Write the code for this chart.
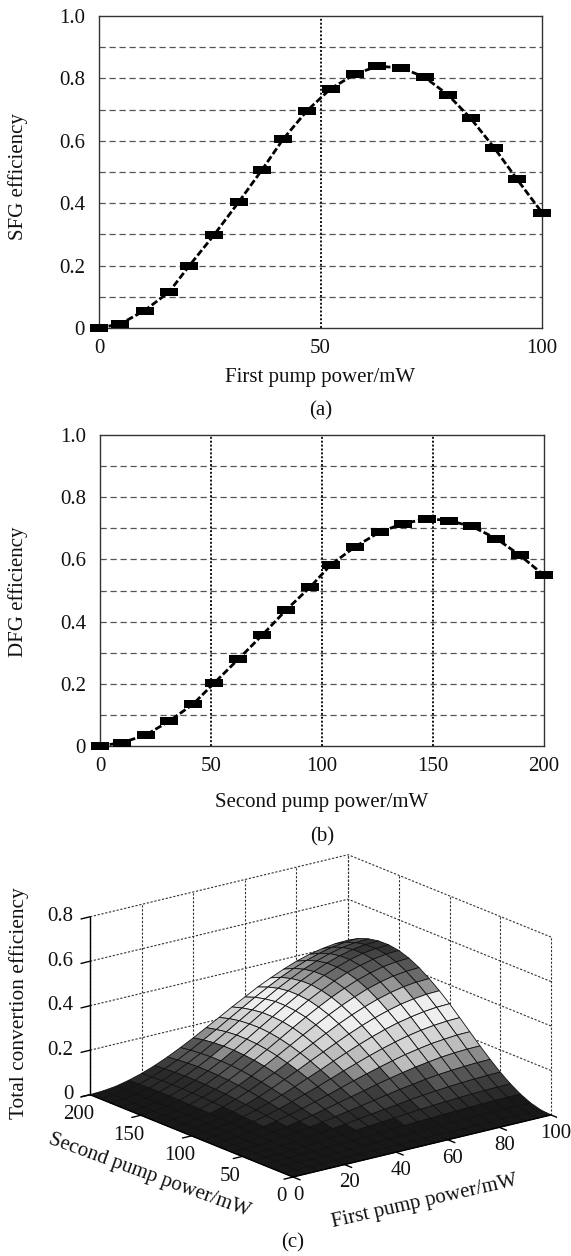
import numpy as np, pandas as pd, seaborn as sns, matplotlib
matplotlib.use('Agg')
import matplotlib.pyplot as plt
from matplotlib.path import Path
from matplotlib.colors import BoundaryNorm, ListedColormap
from mpl_toolkits.mplot3d import proj3d

sfg_power = [0,4.8,10.3,15.8,20.4,25.9,31.5,36.8,41.6,47,52.3,57.7,62.8,68.2,73.5,78.8,83.9,89.2,94.4,100]
sfg_eff = [0,.013,.056,.115,.2,.297,.403,.507,.606,.697,.767,.813,.839,.834,.804,.747,.672,.578,.476,.37]
dfg_power = [0,10,20.5,31,42,51.5,62.3,73,83.8,94.8,104,115,126,136.5,147.5,157,167.5,178.5,189,200]
dfg_eff = [0,.011,.035,.079,.135,.203,.279,.356,.437,.512,.583,.641,.688,.715,.731,.725,.706,.667,.614,.549]
first_pump = list(range(0,101,5))
second_pump = list(range(0,201,10))
# total efficiency: one row per second-pump power, one column per first-pump power
total_eff = [
[0,0,0,0,0,0,0,0,0,0,0,0,0,0,0,0,0,0,0,0,0],
[0,0,0,0,0,.001,.001,.001,.001,.002,.002,.002,.003,.003,.003,.004,.004,.004,.004,.004,.004],
[0,0,0,.001,.002,.002,.004,.005,.006,.007,.009,.010,.011,.012,.013,.015,.015,.016,.017,.017,.017],
[0,0,.001,.002,.004,.006,.008,.010,.013,.016,.019,.022,.025,.027,.030,.032,.034,.036,.037,.038,.038],
[0,0,.002,.004,.006,.010,.014,.018,.023,.028,.033,.038,.043,.048,.052,.056,.059,.062,.064,.065,.066],
[0,.001,.002,.005,.010,.015,.021,.027,.034,.042,.050,.058,.065,.073,.079,.085,.090,.094,.097,.099,.100],
[0,.001,.003,.008,.013,.020,.029,.038,.048,.059,.069,.080,.091,.101,.110,.119,.126,.131,.135,.138,.139],
[0,.001,.004,.010,.017,.027,.037,.050,.063,.077,.091,.105,.119,.132,.144,.155,.164,.172,.177,.180,.181],
[0,.001,.006,.012,.022,.033,.047,.062,.078,.095,.113,.131,.148,.164,.179,.193,.204,.214,.220,.225,.226],
[0,.002,.007,.015,.026,.040,.056,.074,.094,.114,.135,.157,.177,.197,.215,.231,.245,.256,.264,.269,.271],
[0,.002,.008,.017,.030,.046,.065,.086,.109,.133,.157,.182,.206,.229,.250,.269,.285,.297,.307,.313,.315],
[0,.002,.009,.019,.034,.052,.073,.097,.123,.150,.178,.205,.232,.258,.282,.303,.321,.336,.346,.353,.355],
[0,.002,.010,.021,.037,.057,.081,.107,.135,.165,.196,.226,.256,.285,.311,.334,.354,.370,.382,.389,.391],
[0,.003,.010,.023,.040,.062,.087,.115,.146,.178,.211,.244,.276,.307,.335,.360,.382,.399,.412,.419,.422],
[0,.003,.011,.024,.043,.065,.092,.122,.154,.188,.223,.258,.292,.324,.354,.380,.403,.421,.435,.443,.446],
[0,.003,.011,.025,.044,.068,.095,.126,.159,.195,.231,.267,.302,.336,.366,.394,.418,.436,.450,.459,.462],
[0,.003,.011,.026,.045,.069,.097,.128,.162,.198,.235,.271,.307,.341,.373,.401,.424,.444,.458,.466,.469],
[0,.003,.011,.026,.045,.069,.097,.128,.162,.198,.234,.271,.307,.341,.372,.400,.424,.443,.457,.465,.468],
[0,.003,.011,.025,.044,.067,.095,.125,.159,.194,.230,.265,.300,.334,.364,.392,.415,.434,.448,.456,.459],
[0,.003,.011,.024,.042,.065,.091,.121,.153,.186,.221,.255,.289,.321,.351,.377,.399,.417,.431,.439,.442],
[0,.003,.010,.023,.040,.061,.086,.114,.144,.176,.208,.241,.272,.303,.330,.355,.377,.394,.406,.414,.416],
]

sns.set_theme(style='white')
plt.rcParams['font.family']=['Liberation Serif','DejaVu Serif']
W,H=571,1256
fig=plt.figure(figsize=(W/100,H/100),dpi=100,facecolor='white')
def rect(l,t,r,b): return [l/W,1-b/H,(r-l)/W,(b-t)/H]
mk=Path([(-1,-.42),(1,-.42),(1,.42),(-1,.42),(-1,-.42)],closed=True)
INK='#111111'
def panel(box,x,y,xt,xlabel,ylabel,tag,tagy,xlabely,ylaby,vl):
    ax=fig.add_axes(rect(*box))
    ax.set_xlim(xt[0],xt[-1]);ax.set_ylim(0,1)
    for g in np.arange(.1,.95,.1):
        ax.axhline(g,color='#555555',lw=.9,ls=(0,(5,3)),zorder=1)
    for g in vl:
        ax.axvline(g,color='#111111',lw=1.4,ls=(0,(1,1)),zorder=1)
    sns.lineplot(x=x,y=y,ax=ax,color='black',lw=2,linestyle=(0,(2.5,1)),marker=mk,ms=13,mew=0,mec='black',clip_on=False,zorder=3,legend=False)
    ax.set_xticks(xt);ax.set_xticklabels([str(t) for t in xt])
    ax.set_yticks([0,.2,.4,.6,.8,1]);ax.set_yticklabels(['0','0.2','0.4','0.6','0.8','1.0'])
    ax.tick_params(axis='x',labelsize=15,colors=INK,pad=8,length=0)
    ax.tick_params(axis='y',labelsize=15,colors=INK,pad=10,length=0)
    ax.set_xlabel('');ax.set_ylabel('')
    for s in ax.spines.values(): s.set_color('#333333');s.set_linewidth(1)
    fig.text(18/W,1-ylaby/H,ylabel,rotation=90,ha='center',va='center',fontsize=15,color=INK)
    fig.text((box[0]+box[2])/2/W,1-xlabely/H,xlabel,ha='center',va='center',fontsize=15,color=INK)
    fig.text((box[0]+box[2])/2/W,1-tagy/H,tag,ha='center',va='center',fontsize=15,color=INK)
panel((99,16,542,328),sfg_power,sfg_eff,[0,50,100],'First pump power/mW','SFG efficiency','(a)',411,377,177,[50])
panel((100,435,544,746),dfg_power,dfg_eff,[0,50,100,150,200],'Second pump power/mW','DFG efficiency','(b)',837,803,592,[50,100,150])

# 3D
S=500.;cx,cy=320.,1010.
ax=fig.add_axes(rect(cx-S/2,cy-S/2,cx+S/2,cy+S/2),projection='3d',proj_type='ortho',computed_zorder=False)
ax.view_init(elev=18.2,azim=232.4)
ax.set_box_aspect((326,333,187.5))
ax.set_xlim(0,100,view_margin=0);ax.set_ylim(0,200,view_margin=0);ax.set_zlim(0,.8,view_margin=0)
ax.set_axis_off();ax.patch.set_alpha(0)
def scr(a,x,y,z):
    px,py,_=proj3d.proj_transform(x,y,z,a.get_proj())
    return a.transData.transform((px,py))
T0=np.array([293.,H-1177.]);T1=np.array([551.,H-1115.])
for _ in range(4):
    fig.canvas.draw()
    p0=scr(ax,0,0,0);p1=scr(ax,100,0,0)
    k=np.linalg.norm(T1-T0)/np.linalg.norm(p1-p0)
    c=np.array([cx,H-cy])
    c2=T0+(c-p0)*k
    S*=k;cx,cy=c2[0],H-c2[1]
    ax.set_position(rect(cx-S/2,cy-S/2,cx+S/2,cy+S/2))
fig.canvas.draw()
xt=[0,20,40,60,80,100];yt=[0,50,100,150,200];zt=[0,.2,.4,.6,.8]
gk=dict(color='#333333',lw=.8,ls=(0,(2,1.5)),zorder=1)
for z in zt:
    ax.plot([0,100],[200,200],[z,z],**gk);ax.plot([100,100],[0,200],[z,z],**gk)
for x in xt: ax.plot([x,x],[200,200],[0,.8],**gk)
for y in yt: ax.plot([100,100],[y,y],[0,.8],**gk)
bounds=[0,.03,.06,.10,.145,.165,.21,.275,.335,.365,.40,.43,.45,.46,.8]
pal=sns.color_palette(['#181818','#2a2a2a','#3c3c3c','#555555','#8c8c8c','#bdbdbd','#d4d4d4','#eeeeee','#c4c4c4','#959595','#6a6a6a','#555555','#444444','#333333'])
cm=ListedColormap(pal);nm=BoundaryNorm(bounds,cm.N)
Z=np.array(total_eff);X,Y=np.meshgrid(first_pump,second_pump)
fz=(Z[:-1,:-1]+Z[1:,:-1]+Z[:-1,1:]+Z[1:,1:])/4
fz=np.pad(fz,((0,1),(0,1)),mode='edge')
ax.plot_surface(X,Y,Z,rstride=1,cstride=1,facecolors=cm(nm(fz)),shade=False,edgecolor='#111111',linewidth=.6,zorder=2)
ak=dict(color='black',lw=1,zorder=3)
ax.plot([0,0],[200,200],[0,.8],**ak)
ax.plot([0,100],[0,0],[0,0],**ak);ax.plot([0,0],[0,200],[0,0],**ak)
def label3d(x,y,z,s,**kw):
    px,py=scr(ax,x,y,z)
    fig.text(px/W,py/H,s,va='center',fontsize=15,color=INK,**kw)
for z in zt:
    ax.plot([0,-3.5],[200,200],[z,z],**ak)
    label3d(-6.5,200,z+.018,'0' if z==0 else f'{z:.1f}',ha='right')
for x in xt:
    ax.plot([x,x],[0,-7],[0,0],**ak)
    label3d(x,-5,-.073,str(x),ha='center')
for y in yt:
    ax.plot([0,-3.5],[y,y],[0,0],**ak)
    label3d(-4.6,y,-.076,str(y),ha='center')
fig.text(19/W,1-1003/H,'Total convertion efficiency',rotation=90,ha='center',va='center',fontsize=15.4,color=INK)
fig.text(425/W,1-1202/H,'First pump power/mW',rotation=12.8,ha='center',va='center',fontsize=15,color=INK)
fig.text(149/W,1-1176/H,'Second pump power/mW',rotation=-20,ha='center',va='center',fontsize=15,color=INK)
fig.text(293/W,1-1243/H,'(c)',ha='center',va='center',fontsize=15,color=INK)
fig.savefig('out.png',dpi=100)
